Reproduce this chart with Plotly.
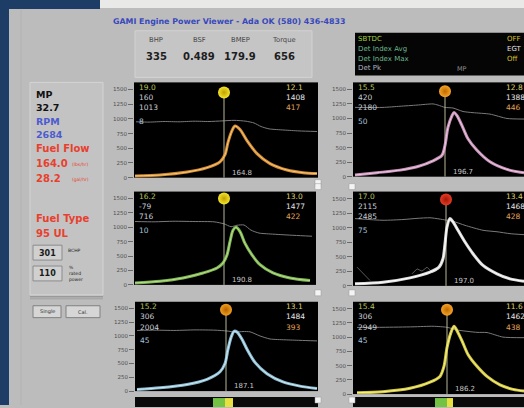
import plotly.graph_objects as go

W, H = 524, 408

# ---------------- data ----------------
# x = sample index across each trend window, y = value on the 0-1500 scale
p1_x = [1, 26, 53, 73, 86, 91, 94, 98, 101, 106, 113, 123, 136, 153, 169, 183]
p1_y = [30, 45, 95, 170, 270, 390, 600, 800, 880, 820, 630, 410, 240, 130, 85, 70]
p1_gx = [2, 15, 30, 45, 60, 75, 88, 100, 112, 120, 127, 135, 150, 165, 183]
p1_gy = [950, 945, 955, 950, 960, 955, 965, 975, 960, 930, 870, 830, 810, 795, 785]

p2_x = [2, 24, 47, 64, 80, 89, 92, 95, 99, 101, 104, 109, 115, 124, 137, 154, 171]
p2_y = [28, 68, 113, 170, 272, 368, 538, 850, 1048, 1104, 1048, 877, 651, 453, 255, 125, 68]
p2_gx = [2, 30, 47, 64, 80, 85, 92, 100, 110, 120, 137, 154, 171]
p2_gy = [1190, 1190, 1210, 1230, 1250, 1230, 1190, 1180, 1120, 1100, 1075, 1000, 990]

p3_x = [1, 26, 49, 69, 83, 89, 93, 96, 99, 102, 106, 111, 118, 126, 139, 156, 176]
p3_y = [34, 64, 120, 207, 293, 380, 520, 750, 950, 1000, 925, 720, 520, 350, 207, 120, 75]
p3_gx = [1, 20, 40, 60, 80, 90, 97, 103, 110, 117, 125, 140, 160, 178]
p3_gy = [1100, 1095, 1105, 1100, 1095, 1060, 1010, 1035, 1040, 950, 900, 880, 860, 845]

p4_x = [2, 30, 57, 77, 86, 90, 92, 94, 97, 100, 105, 112, 120, 130, 144, 157, 171]
p4_y = [35, 63, 138, 236, 322, 466, 725, 1012, 1156, 1098, 955, 753, 552, 351, 207, 120, 80]
p4_gx = [2, 30, 50, 64, 77, 86, 93, 100, 112, 130, 144, 157, 171]
p4_gy = [1156, 1127, 1140, 1160, 1170, 1150, 1130, 1110, 1040, 955, 930, 897, 880]
p4_ax = [4, 10, 17, None, 59, 64, 69, 74, 79, 84]
p4_ay = [322, 207, 92, None, 207, 293, 253, 322, 236, 265]

p5_x = [2, 25, 52, 72, 85, 90, 93, 96, 99, 102, 107, 112, 120, 132, 148, 165, 182]
p5_y = [30, 60, 120, 214, 350, 500, 760, 970, 1085, 1070, 940, 760, 520, 315, 166, 90, 47]
p5_gx = [2, 20, 40, 60, 80, 92, 100, 108, 115, 125, 135, 150, 165, 182]
p5_gy = [1100, 1105, 1100, 1110, 1105, 1090, 1070, 1080, 1075, 1000, 945, 930, 920, 910]

p6_x = [4, 30, 57, 77, 87, 91, 94, 98, 101, 104, 109, 115, 124, 134, 147, 160, 171]
p6_y = [25, 42, 101, 208, 310, 488, 815, 1083, 1190, 1113, 934, 696, 488, 310, 161, 83, 54]
p6_gx = [4, 30, 60, 80, 94, 104, 124, 134, 150, 171]
p6_gy = [1170, 1172, 1180, 1190, 1172, 1125, 1083, 1080, 1000, 990]

marker_x = [90, 92, 90, 93, 91, 94]
marker_y = [1450, 1466, 1500, 1484, 1476, 1480]
bottom_labels = ["164.8", "196.7", "190.8", "197.0", "187.1", "186.2"]
left_texts = [["19.0", "160", "1013", "8"], ["15.5", "420", "2180", "50"],
              ["16.2", "-79", "716", "10"], ["17.0", "2115", "2485", "75"],
              ["15.2", "306", "2004", "45"], ["15.4", "306", "2949", "45"]]
right_texts = [["12.1", "1408", "417"], ["12.8", "1388", "446"],
               ["13.0", "1477", "422"], ["13.4", "1468", "428"],
               ["13.1", "1484", "393"], ["11.6", "1462", "438"]]
y_ticks = [0, 250, 500, 750, 1000, 1250, 1500]
y_tick_text = ["0", "250", "500", "750", "1000", "1250", "1500"]

header_labels = ["BHP", "BSF", "BMEP", "Torque"]
header_values = ["335", "0.489", "179.9", "656"]

# ---------------- layout geometry (pixels) ----------------
FONT = "DejaVu Sans"
panels = [  # left, right, top, bottom
    (134, 318, 83, 179), (353, 524, 83, 178),
    (134, 316, 193, 287), (353, 524, 193, 288),
    (135, 318, 304, 394), (353, 524, 304, 397),
]
curve_col = ["#e89a3a", "#d8a0c8", "#8cc85a", "#f2f2f2", "#9ccfe6", "#e6dc48"]
curve_core = ["#f8c878", "#f0c8e4", "#b8e090", "#ffffff", "#d0ecf8", "#f8f090"]
dot_col = ["#f4e42a", "#f4a428", "#f4e42a", "#e83a24", "#f0a020", "#f4a428"]
dot_edge = ["#c0a000", "#c06800", "#c0a000", "#a01808", "#b86000", "#c06800"]

series = [(p1_x, p1_y, p1_gx, p1_gy), (p2_x, p2_y, p2_gx, p2_gy),
          (p3_x, p3_y, p3_gx, p3_gy), (p4_x, p4_y, p4_gx, p4_gy),
          (p5_x, p5_y, p5_gx, p5_gy), (p6_x, p6_y, p6_gx, p6_gy)]


def px(x):
    return x / W


def py(y):
    return 1 - y / H


fig = go.Figure()
layout = {}
anns = []
shapes = []


def txt(x, y, s, size=8, color="#000", bold=False, xanchor="left", family=FONT):
    anns.append(dict(x=px(x), y=py(y), xref="paper", yref="paper",
                     text=f"<b>{s}</b>" if bold else s, showarrow=False,
                     xanchor=xanchor, yanchor="middle", borderpad=0,
                     font=dict(size=size, color=color, family=family)))


def rect(x0, y0, x1, y1, fill, line=None, lw=0, layer="below"):
    shapes.append(dict(type="rect", xref="paper", yref="paper",
                       x0=px(x0), x1=px(x1), y0=py(y1), y1=py(y0),
                       fillcolor=fill, layer=layer,
                       line=dict(color=line or fill, width=lw)))


def hline(x0, x1, y, color, w=1):
    shapes.append(dict(type="line", xref="paper", yref="paper", x0=px(x0), x1=px(x1),
                       y0=py(y), y1=py(y), line=dict(color=color, width=w), layer="below"))


def vline(x, y0, y1, color, w=1):
    shapes.append(dict(type="line", xref="paper", yref="paper", x0=px(x), x1=px(x),
                       y0=py(y0), y1=py(y1), line=dict(color=color, width=w), layer="below"))


# ---------------- backgrounds ----------------
rect(0, 0, 100, 9, "#1d3d66")
rect(100, 0, 524, 8, "#e9e9e7")
rect(0, 0, 9, 408, "#1d3d66")
vline(21, 9, 408, "#b2b2b2", 1)
# left panel
rect(30, 83, 103, 297, "#c3c3c3", "#d4d4d4", 1)
hline(30, 103, 299, "#8a8a8a", 1)
hline(30, 103, 301, "#a0a0a0", 1)
# header box
rect(135, 31, 312, 78, "#c5c5c5", "#d2d2d2", 1)
# info panel
rect(355, 33, 526, 76, "#050505")
# bottom bars
rect(135, 400, 318, 410, "#0a0a0a")
rect(213, 401, 225, 410, "#74c244")
rect(225, 401, 233, 410, "#e8e040")
rect(353, 400, 526, 410, "#0a0a0a")
rect(435, 401, 447, 410, "#74c244")
rect(447, 401, 453, 410, "#e8e040")
# little white handles
for (sx, sy) in [(318, 184), (318, 188), (352, 188), (318, 295), (352, 295), (318, 403), (352, 403)]:
    rect(sx - 3, sy - 3, sx + 3, sy + 3, "#f4f4f4", "#999999", 0.5, layer="above")

# ---------------- header texts ----------------
txt(112, 22, "GAMI Engine Power Viewer - Ada OK (580) 436-4833", 7.9, "#3848bc", True)
for lab, val, cx in zip(header_labels, header_values, [156, 199, 240, 284]):
    txt(cx, 40, lab, 6.8, "#474747", False, "center")
    txt(cx, 57, val, 10, "#1e1e1e", True, "center")

info_left = ["SBTDC", "Det Index Avg", "Det Index Max", "Det Pk"]
info_cols = ["#a0d040", "#6ab88c", "#6ab88c", "#a8b4c0"]
for i, (s, c) in enumerate(zip(info_left, info_cols)):
    txt(357, 39 + i * 10, s, 7, c)
txt(456, 70, "MP", 6.5, "#909090")
txt(506, 39, "OFF", 7, "#d8c030")
txt(506, 49, "EGT", 7, "#e0e0e0")
txt(506, 59, "Off", 7, "#d8c030")

# ---------------- left panel texts ----------------
RED = "#e8402e"
BLUE = "#4c5cd0"
txt(35, 95, "MP", 9.5, "#111111", True)
txt(35, 108, "32.7", 9.5, "#111111", True)
txt(35, 122, "RPM", 9.5, BLUE, True)
txt(35, 135, "2684", 9.5, BLUE, True)
txt(35, 150, "Fuel Flow", 10, RED, True)
txt(35, 165, "164.0", 10, RED, True)
txt(71, 166, "(lbs/hr)", 4.5, RED)
txt(35, 180, "28.2", 10, RED, True)
txt(71, 181, "(gal/hr)", 4.5, RED)
txt(35, 220, "Fuel Type", 10, RED, True)
txt(35, 235, "95 UL", 10, RED, True)
rect(33, 247, 62, 262, "#d0d0d0", "#8c8c8c", 1)
txt(47.5, 255, "301", 8, "#1a1a1a", True, "center")
txt(67, 252, "BCHP", 4.5, "#222222")
rect(33, 268, 62, 283, "#d0d0d0", "#8c8c8c", 1)
txt(47.5, 276, "110", 8, "#1a1a1a", True, "center")
anns.append(dict(x=px(67), y=py(276), xref="paper", yref="paper", showarrow=False,
                 text="%<br>rated<br>power", xanchor="left", yanchor="middle", align="left",
                 font=dict(size=4.5, color="#222222", family=FONT)))
rect(33, 308, 61, 320, "#d6d6d6", "#808080", 1)
txt(47, 314, "Single", 5, "#333333", False, "center")
rect(66, 308, 100, 320, "#d6d6d6", "#808080", 1)
txt(83, 314, "Cal.", 5, "#333333", False, "center")

# ---------------- the six trend plots ----------------
for i, ((l, r, t, b), (cx, cy, gx, gy)) in enumerate(zip(panels, series)):
    n = i + 1
    xa = "x" if n == 1 else f"x{n}"
    ya = "y" if n == 1 else f"y{n}"
    xw = r - l
    layout[f"xaxis{'' if n == 1 else n}"] = dict(
        domain=[px(l), min(px(r), 1.0)], range=[0, xw], anchor=ya,
        showgrid=False, zeroline=False, showticklabels=False, ticks="", showline=False)
    layout[f"yaxis{'' if n == 1 else n}"] = dict(
        domain=[py(b), py(t)], range=[0, 1620], anchor=xa,
        showgrid=False, zeroline=False, showline=False,
        tickvals=y_ticks, ticktext=y_tick_text, ticks="outside", ticklen=5,
        tickcolor="#6a6a6a", tickwidth=1,
        tickfont=dict(size=5.5, color="#505050", family=FONT))

    # grey reference line
    fig.add_trace(go.Scatter(x=gx, y=gy, xaxis=xa, yaxis=ya, mode="lines",
                             line=dict(color="#7a7a7a", width=1, shape="spline", smoothing=0.6),
                             hoverinfo="skip"))
    if n == 4:
        fig.add_trace(go.Scatter(x=p4_ax, y=p4_ay, xaxis=xa, yaxis=ya, mode="lines",
                                 line=dict(color="#5a5a5a", width=1), hoverinfo="skip"))
    # vertical marker line
    fig.add_trace(go.Scatter(x=[marker_x[i], marker_x[i]], y=[marker_y[i], 0], xaxis=xa, yaxis=ya,
                             mode="lines", line=dict(color="#b8b898", width=1), hoverinfo="skip"))
    # main curve (glow + core)
    fig.add_trace(go.Scatter(x=cx, y=cy, xaxis=xa, yaxis=ya, mode="lines",
                             line=dict(color=curve_col[i], width=3, shape="spline", smoothing=0.8),
                             opacity=0.9, hoverinfo="skip"))
    fig.add_trace(go.Scatter(x=cx, y=cy, xaxis=xa, yaxis=ya, mode="lines",
                             line=dict(color=curve_core[i], width=1, shape="spline", smoothing=0.8),
                             hoverinfo="skip"))
    # dot
    fig.add_trace(go.Scatter(x=[marker_x[i]], y=[marker_y[i]], xaxis=xa, yaxis=ya, mode="markers",
                             marker=dict(size=12, color=dot_col[i],
                                         gradient=dict(type="radial", color=dot_edge[i]),
                                         line=dict(width=0)),
                             cliponaxis=False, hoverinfo="skip"))

    # texts inside the plot
    left_cols = ["#b4c45a", "#c8ced6", "#c8ced6", "#a6c4dc"]
    for k, s in enumerate(left_texts[i]):
        ty = [t + 5, t + 15, t + 25.5, t + 39][k]
        txt(l + 3.5, ty, s, 7.5, left_cols[k])
    right_cols = ["#dccc6a", "#e6e6e6", "#e0a45a"]
    rx = 285 if l < 200 else 505
    for k, s in enumerate(right_texts[i]):
        ty = [t + 5, t + 15, t + 25.5][k]
        txt(rx, ty, s, 7.5, right_cols[k])
    txt(l + marker_x[i] + 7, b - 5, bottom_labels[i], 7, "#c8c8c8")

fig.update_layout(
    width=W, height=H, margin=dict(l=0, r=0, t=0, b=0),
    paper_bgcolor="#bcbcbc", plot_bgcolor="#000000",
    showlegend=False, annotations=anns, shapes=shapes, **layout)

fig.write_html("out.html", config={"displayModeBar": False, "staticPlot": True},
               post_script="document.body.style.margin='0px';document.body.style.overflow='hidden';")
